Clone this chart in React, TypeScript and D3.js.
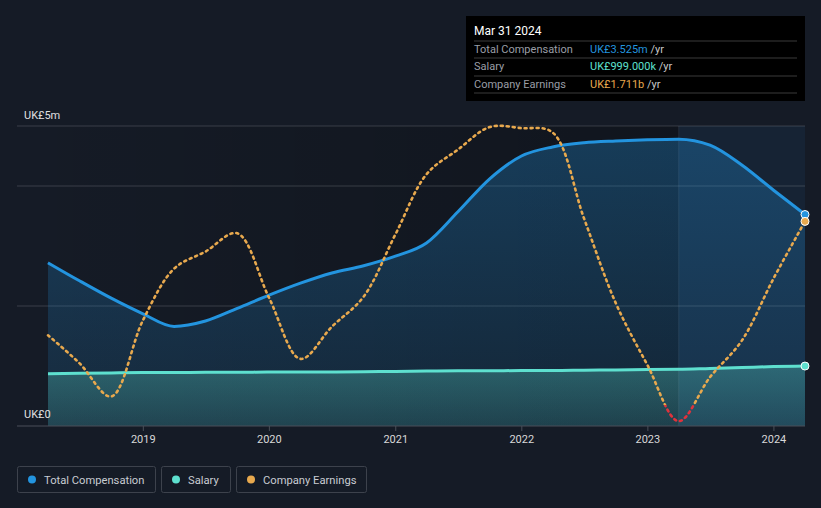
import React from "react";
import * as d3 from "d3";

const quarters: string[] = [
  "2018-03-31","2018-06-30","2018-09-30","2018-12-31",
  "2019-03-31","2019-06-30","2019-09-30","2019-12-31",
  "2020-03-31","2020-06-30","2020-09-30","2020-12-31",
  "2021-03-31","2021-06-30","2021-09-30","2021-12-31",
  "2022-03-31","2022-06-30","2022-09-30","2022-12-31",
  "2023-03-31","2023-06-30","2023-09-30","2023-12-31",
  "2024-03-31",
];
const totalComp: number[] = [
  2.72, 2.42, 2.13, 1.87, 1.66, 1.75, 1.96, 2.18, 2.38, 2.55, 2.67, 2.83,
  3.05, 3.57, 4.12, 4.5, 4.65, 4.72, 4.75, 4.77, 4.78, 4.68, 4.35, 3.93, 3.525,
];
const salary: number[] = [
  0.87, 0.88, 0.885, 0.89, 0.89, 0.895, 0.895, 0.9, 0.9, 0.9, 0.905, 0.91,
  0.915, 0.92, 0.92, 0.925, 0.925, 0.93, 0.935, 0.94, 0.945, 0.96, 0.975, 0.99, 0.999,
];
const earnings: number[] = [
  0.65, 0.39, 0.08, 0.79, 1.27, 1.43, 1.6, 1.0, 0.43, 0.73, 1.01, 1.59,
  2.15, 2.38, 2.59, 2.58, 2.54, 1.74, 0.95, 0.37, -0.15, 0.26, 0.6, 1.18, 1.711,
];
const yearTicks: number[] = [2019, 2020, 2021, 2022, 2023, 2024];
const yTickLabels: string[] = ["UK£0", "UK£5m"];
const legendItems: string[] = ["Total Compensation", "Salary", "Company Earnings"];

const BG = "#151b26";
const C_COMP = "#2394df";
const C_SAL = "#5ee0cf";
const C_EARN = "#e8a94e";
const C_NEG = "#e0323c";
const FONT = "Roboto, 'Noto Sans', sans-serif";

export default function App() {
  const W = 821, H = 508;
  const left = 17, right = 805, top = 126, bottom = 426;
  const dates = quarters.map((q) => new Date(q + "T00:00:00"));
  const x = d3.scaleTime().domain([dates[0], dates[dates.length - 1]]).range([48, 805]);
  const y = d3.scaleLinear().domain([0, 5]).range([bottom, top]);
  const ye = d3.scaleLinear().domain([-0.149, 2.6]).range([421, 126]);
  const hiX = x(new Date("2023-03-31T00:00:00"));
  const curve = d3.curveCatmullRom.alpha(0.5);
  const mono = d3.curveMonotoneX;

  const compLine = d3.line<number>().x((_, i) => x(dates[i])).y((d) => y(d)).curve(mono);
  const compArea = d3.area<number>().x((_, i) => x(dates[i])).y0(bottom).y1((d) => y(d)).curve(mono);
  const salLine = d3.line<number>().x((_, i) => x(dates[i])).y((d) => y(d)).curve(mono);
  const salArea = d3.area<number>().x((_, i) => x(dates[i])).y0(bottom).y1((d) => y(d)).curve(mono);
  const earnLine = d3.line<number>().x((_, i) => x(dates[i])).y((d) => ye(d)).curve(curve);
  const zeroY = ye(0);
  const last = dates.length - 1;

  const legendBoxes = [
    { x: 17, w: 138, color: C_COMP },
    { x: 161, w: 69, color: C_SAL },
    { x: 236, w: 130, color: C_EARN },
  ];

  const gridVals = [5, 4, 2];

  return (
    <svg width={W} height={H} style={{ display: "block", position: "absolute", left: 0, top: 0 }} fontFamily={FONT}>
      <defs>
        <linearGradient id="plotbg" x1="0" x2="1" y1="0" y2="0">
          <stop offset="0" stopColor="#000" stopOpacity="0" />
          <stop offset="1" stopColor="#000" stopOpacity="0.22" />
        </linearGradient>
        <linearGradient id="compFill" x1="0" x2="0" y1="0" y2="1">
          <stop offset="0" stopColor={C_COMP} stopOpacity="0.3" />
          <stop offset="1" stopColor={C_COMP} stopOpacity="0.12" />
        </linearGradient>
        <linearGradient id="salFill" x1="0" x2="0" y1="0" y2="1">
          <stop offset="0" stopColor={C_SAL} stopOpacity="0.3" />
          <stop offset="1" stopColor={C_SAL} stopOpacity="0.15" />
        </linearGradient>
        <clipPath id="posClip"><rect x={0} y={0} width={W} height={zeroY} /></clipPath>
        <clipPath id="negClip"><rect x={0} y={zeroY} width={W} height={H - zeroY} /></clipPath>
      </defs>
      <rect x={0} y={0} width={W} height={H} fill={BG} />
      <rect x={left} y={top} width={hiX - left} height={bottom - top} fill="url(#plotbg)" />
      <rect x={hiX} y={top} width={right - hiX} height={bottom - top} fill="#1a3550" fillOpacity={0.35} />

      {gridVals.map((v) => (
        <line key={v} x1={left} x2={right} y1={y(v)} y2={y(v)} stroke="#ffffff" strokeOpacity={0.16} />
      ))}

      <path d={compArea(totalComp) || ""} fill="url(#compFill)" />
      <path d={salArea(salary) || ""} fill="url(#salFill)" />
      <line x1={hiX} x2={hiX} y1={top} y2={bottom} stroke="#ffffff" strokeOpacity={0.05} strokeWidth={1.5} />

      <path d={compLine(totalComp) || ""} fill="none" stroke={C_COMP} strokeWidth={3} />
      <path d={salLine(salary) || ""} fill="none" stroke={C_SAL} strokeWidth={3} />
      <g clipPath="url(#posClip)">
        <path d={earnLine(earnings) || ""} fill="none" stroke={C_EARN} strokeWidth={2.6} strokeDasharray="2 4" strokeLinecap="round" />
      </g>
      <g clipPath="url(#negClip)">
        <path d={earnLine(earnings) || ""} fill="none" stroke={C_NEG} strokeWidth={2.6} strokeDasharray="2 4" strokeLinecap="round" />
      </g>

      <circle cx={x(dates[last])} cy={y(totalComp[last])} r={4} fill={C_COMP} stroke="#fff" strokeWidth={1} />
      <circle cx={x(dates[last])} cy={ye(earnings[last])} r={4} fill={C_EARN} stroke="#fff" strokeWidth={1} />
      <circle cx={x(dates[last])} cy={y(salary[last])} r={4} fill={C_SAL} stroke="#fff" strokeWidth={1} />

      <line x1={left} x2={right} y1={bottom} y2={bottom} stroke="#4a4f59" strokeWidth={1} />
      {yearTicks.map((yr) => {
        const tx = x(new Date(`${yr}-01-01T00:00:00`));
        return (
          <g key={yr}>
            <line x1={tx} x2={tx} y1={bottom} y2={bottom + 5} stroke="#4a4f59" />
            <text x={tx} y={443} textAnchor="middle" fontSize={11} fill="#d8d8d8">{yr}</text>
          </g>
        );
      })}
      <text x={24} y={119} fontSize={11} fill="#e0e0e0">{yTickLabels[1]}</text>
      <text x={24} y={418} fontSize={11} fill="#e0e0e0">{yTickLabels[0]}</text>

      <rect x={466} y={16} width={339} height={85} fill="#000" />
      <text x={474} y={35} fontSize={12} fill="#fff">Mar 31 2024</text>
      {[41, 58, 76, 93].map((ly) => (
        <line key={ly} x1={474} x2={797} y1={ly} y2={ly} stroke="#3a3a3a" />
      ))}
      <text x={474} y={53} fontSize={11} fill="#9a9ea6">Total Compensation</text>
      <text x={474} y={70} fontSize={11} fill="#9a9ea6">Salary</text>
      <text x={474} y={88} fontSize={11} fill="#9a9ea6">Company Earnings</text>
      <text x={590} y={53} fontSize={11}>
        <tspan fill={C_COMP}>UK£3.525m</tspan><tspan fill="#c8c8c8"> /yr</tspan>
      </text>
      <text x={590} y={70} fontSize={11}>
        <tspan fill={C_SAL}>UK£999.000k</tspan><tspan fill="#c8c8c8"> /yr</tspan>
      </text>
      <text x={590} y={88} fontSize={11}>
        <tspan fill={C_EARN}>UK£1.711b</tspan><tspan fill="#c8c8c8"> /yr</tspan>
      </text>

      {legendBoxes.map((b, i) => (
        <g key={i}>
          <rect x={b.x + 0.5} y={466.5} width={b.w} height={26} rx={2} fill="none" stroke="#3d424c" />
          <circle cx={b.x + 15} cy={479.5} r={4} fill={b.color} />
          <text x={b.x + 27} y={483.5} fontSize={11.2} fill="#c8ccd2">{legendItems[i]}</text>
        </g>
      ))}
    </svg>
  );
}
